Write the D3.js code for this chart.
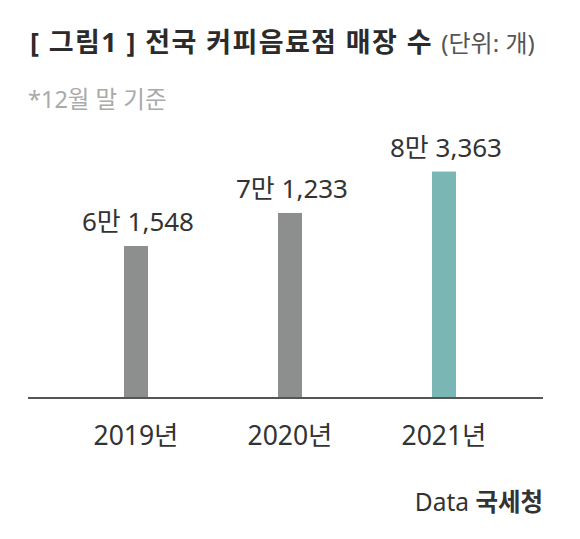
<!DOCTYPE html>
<html>
<head>
<meta charset="utf-8">
<script src="https://cdn.jsdelivr.net/npm/d3@7"></script>
<style>
  body { margin: 0; background: #fff; }
  svg { display: block; font-family: "Noto Sans", "Noto Sans CJK KR", sans-serif; }
</style>
</head>
<body>
<div id="chart"></div>
<script>
// chart data
const years = ["2019년", "2020년", "2021년"];
const stores = [61548, 71233, 83363];
const valueLabels = ["6만 1,548", "7만 1,233", "8만 3,363"];
const barColors = ["#8d8f8f", "#8d8f8f", "#79b6b4"];

const width = 580, height = 539;
const baseY = 398;

const svg = d3.select("#chart").append("svg")
  .attr("width", width)
  .attr("height", height);

// title
const title = svg.append("text")
  .attr("x", 30)
  .attr("y", 52)
  .attr("fill", "#2b2b2b");
title.append("tspan")
  .attr("font-size", 27)
  .attr("font-weight", 700)
  .attr("letter-spacing", 1.4)
  .text("[ 그림1 ] 전국 커피음료점 매장 수 ");
title.append("tspan")
  .attr("font-size", 24)
  .attr("fill", "#555")
  .text("(단위: 개)");

svg.append("text")
  .attr("x", 28)
  .attr("y", 108)
  .attr("font-size", 23.5)
  .attr("fill", "#aaaaaa")
  .text("*12월 말 기준");

// scales (axis does not start at zero in the original)
const x = d3.scalePoint()
  .domain(years)
  .range([136, 444]);

const y = d3.scaleLinear()
  .domain([17000, 84000])
  .range([baseY, 169.4]);

const barW = 24;

svg.selectAll(".bar")
  .data(years)
  .join("rect")
  .attr("class", "bar")
  .attr("x", d => x(d) - barW / 2)
  .attr("y", (d, i) => y(stores[i]))
  .attr("width", barW)
  .attr("height", (d, i) => baseY - y(stores[i]))
  .attr("fill", (d, i) => barColors[i]);

svg.selectAll(".val")
  .data(years)
  .join("text")
  .attr("class", "val")
  .attr("x", d => x(d) + 2)
  .attr("y", (d, i) => y(stores[i]) - 15)
  .attr("text-anchor", "middle")
  .attr("font-size", 26)
  .attr("fill", "#333")
  .text((d, i) => valueLabels[i]);

// baseline
svg.append("line")
  .attr("x1", 28)
  .attr("x2", 543)
  .attr("y1", baseY)
  .attr("y2", baseY)
  .attr("stroke", "#555")
  .attr("stroke-width", 2);

// x axis labels
svg.selectAll(".year")
  .data(years)
  .join("text")
  .attr("class", "year")
  .attr("x", d => x(d))
  .attr("y", 445)
  .attr("text-anchor", "middle")
  .attr("font-size", 26.5)
  .attr("fill", "#333")
  .text(d => d);

// source
const src = svg.append("text")
  .attr("x", 543)
  .attr("y", 511)
  .attr("text-anchor", "end")
  .attr("font-size", 24.5)
  .attr("fill", "#333");
src.append("tspan").text("Data ");
src.append("tspan").attr("font-weight", 700).text("국세청");
</script>
</body>
</html>
